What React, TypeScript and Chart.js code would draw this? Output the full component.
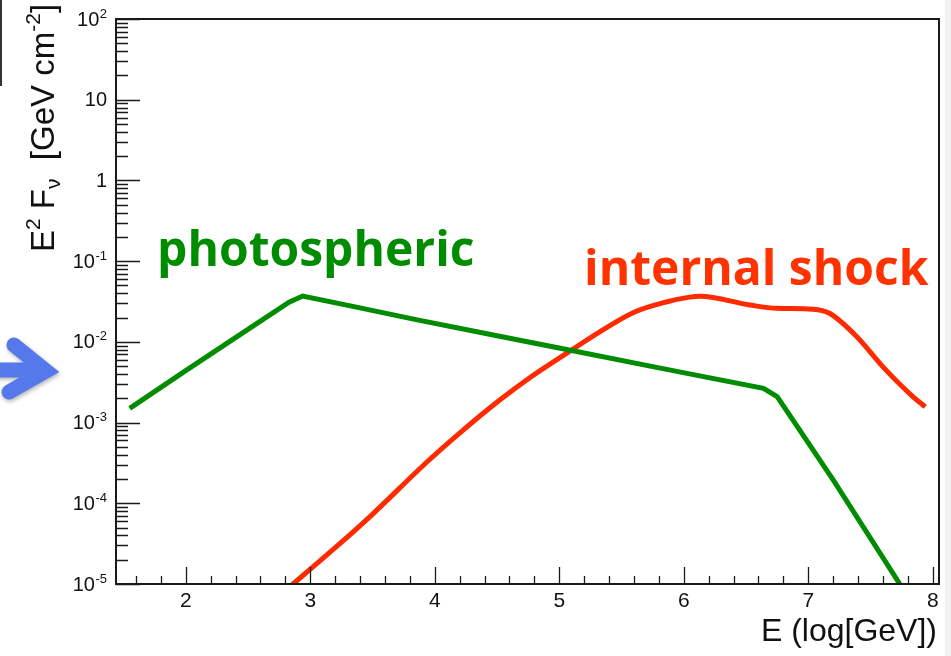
import React, { useEffect, useRef } from "react";
import { Chart, registerables } from "chart.js";

Chart.register(...registerables);

// Photospheric component: E (log GeV) vs E^2 F_nu (GeV cm^-2)
const photoE = [1.55, 2.0, 2.5, 2.83, 2.94, 3.4, 3.84, 4.5, 5.1, 5.73, 6.2, 6.64, 6.75, 6.93, 7.2, 7.76];
const photoFlux = [1.5e-3, 4.4e-3, 1.43e-2, 3.1e-2, 3.7e-2, 2.64e-2, 1.9e-2, 1.19e-2, 7.8e-3, 5.0e-3, 3.6e-3, 2.66e-3, 2.1e-3, 8.1e-4, 1.95e-4, 8.7e-6];

// Internal shock component
const shockE = [2.8, 3.21, 3.478, 3.933, 4.2, 4.522, 4.763, 5.098, 5.325, 5.593, 5.86, 6.048, 6.13, 6.53, 6.745, 7.04, 7.17, 7.39, 7.6, 7.84, 7.94];
const shockFlux = [8.3e-6, 2.9e-5, 6.8e-5, 3.2e-4, 7.4e-4, 1.9e-3, 3.6e-3, 7.9e-3, 1.33e-2, 2.3e-2, 3.12e-2, 3.58e-2, 3.67e-2, 2.86e-2, 2.6e-2, 2.54e-2, 2.26e-2, 1.16e-2, 4.9e-3, 2.1e-3, 1.57e-3];

// Axis ranges and ticks
const xMin = 1.44;
const xMax = 8.05;
const xMajorTicks = [2, 3, 4, 5, 6, 7, 8];
const xMinorStep = 0.2;
const yMin = 1e-5;
const yMax = 1e2;
const yDecades = [-5, -4, -3, -2, -1, 0, 1, 2];

const GREEN = "#008c00";
const RED = "#ff2a00";
const AXIS = "#1a1a1a";
const SANS = '"Liberation Sans", Arial, Helvetica, sans-serif';
const LABEL_FONT = '"Open Sans", sans-serif';

function drawYTickLabel(ctx: CanvasRenderingContext2D, exp: number, y: number, right: number) {
  ctx.fillStyle = "#111";
  ctx.textAlign = "right";
  if (exp === 0 || exp === 1) {
    ctx.font = `20px ${SANS}`;
    ctx.textBaseline = "middle";
    ctx.fillText(exp === 0 ? "1" : "10", right, y + 1);
    return;
  }
  const sup = String(exp);
  ctx.font = `13px ${SANS}`;
  const supW = ctx.measureText(sup).width;
  ctx.textBaseline = "alphabetic";
  ctx.fillText(sup, right, y - 1.5);
  ctx.font = `20px ${SANS}`;
  ctx.textBaseline = "middle";
  ctx.fillText("10", right - supW - 0.5, y + 1);
}

const framePlugin = {
  id: "frameAndText",
  afterDatasetsDraw(chart: any) {
    const { ctx, chartArea } = chart;
    const xs = chart.scales.x;
    const ys = chart.scales.y;
    const { left, right, top, bottom } = chartArea;
    ctx.save();

    // ticks inside the frame
    ctx.strokeStyle = AXIS;
    ctx.lineWidth = 1.3;
    ctx.beginPath();
    for (let d = -5; d < 2; d++) {
      for (let m = 2; m <= 9; m++) {
        const py = Math.round(ys.getPixelForValue(m * Math.pow(10, d))) + 0.5;
        ctx.moveTo(left, py);
        ctx.lineTo(left + 12, py);
      }
    }
    yDecades.forEach((d) => {
      const py = Math.round(ys.getPixelForValue(Math.pow(10, d))) + 0.5;
      ctx.moveTo(left, py);
      ctx.lineTo(left + 24, py);
    });
    const nMinor = Math.round((xMax - xMin) / xMinorStep) + 2;
    const first = Math.ceil(xMin / xMinorStep) * xMinorStep;
    for (let i = 0; i < nMinor; i++) {
      const v = +(first + i * xMinorStep).toFixed(3);
      if (v > xMax) break;
      const isMajor = Math.abs(v - Math.round(v)) < 1e-6;
      const px = Math.round(xs.getPixelForValue(v)) + 0.5;
      ctx.moveTo(px, bottom);
      ctx.lineTo(px, bottom - (isMajor ? 17 : 8));
    }
    ctx.stroke();

    // frame
    ctx.lineWidth = 2;
    ctx.strokeStyle = AXIS;
    ctx.strokeRect(left, top, right - left, bottom - top);

    // y tick labels
    yDecades.forEach((d) => {
      drawYTickLabel(ctx, d, ys.getPixelForValue(Math.pow(10, d)), left - 9);
    });

    // x tick labels
    ctx.font = `21px ${SANS}`;
    ctx.fillStyle = "#111";
    ctx.textAlign = "center";
    ctx.textBaseline = "middle";
    xMajorTicks.forEach((v) => {
      ctx.fillText(String(v), xs.getPixelForValue(v), bottom + 17);
    });

    // x title
    ctx.font = `32px ${SANS}`;
    ctx.textAlign = "right";
    ctx.textBaseline = "alphabetic";
    ctx.fillText("E (log[GeV])", right - 2, bottom + 57);

    // y title, rotated
    ctx.save();
    ctx.translate(54, 252);
    ctx.rotate(-Math.PI / 2);
    ctx.textAlign = "left";
    ctx.textBaseline = "alphabetic";
    const big = `33px ${SANS}`;
    const small = `21px ${SANS}`;
    let cx = 0;
    const part = (t: string, font: string, dy: number) => {
      ctx.font = font;
      ctx.fillText(t, cx, dy);
      cx += ctx.measureText(t).width;
    };
    part("E", big, 0);
    part("2", small, -14);
    part(" F", big, 0);
    part("\u03bd", small, 6);
    part("  [GeV cm", big, 0);
    part("-2", small, -14);
    part("]", big, 0);
    ctx.restore();

    // component labels
    ctx.font = `bold 48px ${LABEL_FONT}`;
    ctx.textAlign = "left";
    ctx.textBaseline = "alphabetic";
    ctx.fillStyle = GREEN;
    ctx.fillText("photospheric", 157, 266);
    ctx.fillStyle = "#ff3300";
    ctx.fillText("internal shock", 584, 285);

    // pointer arrow at the left margin
    ctx.save();
    ctx.shadowColor = "rgba(0,0,0,0.3)";
    ctx.shadowBlur = 4;
    ctx.shadowOffsetX = 1;
    ctx.shadowOffsetY = 2;
    ctx.strokeStyle = "#5579ea";
    ctx.lineWidth = 15;
    ctx.lineCap = "round";
    ctx.lineJoin = "miter";
    ctx.beginPath();
    ctx.moveTo(-10, 370);
    ctx.lineTo(42, 370);
    ctx.moveTo(14, 345);
    ctx.lineTo(46, 371);
    ctx.lineTo(9, 392);
    ctx.stroke();
    ctx.restore();

    // slide edge marks
    ctx.fillStyle = "#333";
    ctx.fillRect(0, 0, 2, 86);
    ctx.fillStyle = "#f2f2f2";
    ctx.fillRect(945, 0, 6, 656);

    ctx.restore();
  },
};

export default function App() {
  const canvasRef = useRef<HTMLCanvasElement | null>(null);

  useEffect(() => {
    const canvas = canvasRef.current;
    if (!canvas) return;
    const chart = new Chart(canvas, {
      type: "line",
      data: {
        datasets: [
          {
            label: "photospheric",
            data: photoE.map((x, i) => ({ x, y: photoFlux[i] })),
            borderColor: GREEN,
            borderWidth: 5,
            pointRadius: 0,
            tension: 0,
            clip: 0,
          },
          {
            label: "internal shock",
            data: shockE.map((x, i) => ({ x, y: shockFlux[i] })),
            borderColor: RED,
            borderWidth: 5,
            pointRadius: 0,
            cubicInterpolationMode: "monotone",
            clip: 0,
          },
        ],
      },
      options: {
        animation: false,
        responsive: false,
        devicePixelRatio: 1,
        layout: { padding: { left: 116, right: 12, top: 19, bottom: 72 } },
        plugins: { legend: { display: false }, tooltip: { enabled: false } },
        scales: {
          x: { type: "linear", min: xMin, max: xMax, display: false },
          y: { type: "logarithmic", min: yMin, max: yMax, display: false },
        },
      },
      plugins: [framePlugin],
    } as any);
    return () => chart.destroy();
  }, []);

  return (
    <div style={{ position: "fixed", left: 0, top: 0, width: 951, height: 656, background: "#fff" }}>
      <canvas ref={canvasRef} width={951} height={656} style={{ display: "block" }} />
    </div>
  );
}
